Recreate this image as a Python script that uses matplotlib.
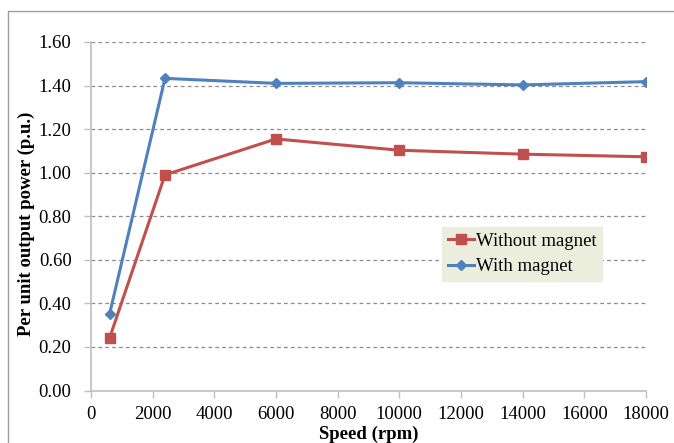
import matplotlib
matplotlib.use("Agg")
import matplotlib.pyplot as plt
from matplotlib.patches import Rectangle

plt.rcParams["font.family"] = "Liberation Serif"

speed = [600, 2400, 6000, 10000, 14000, 18000]
without_magnet = [0.24, 0.99, 1.155, 1.103, 1.085, 1.073]
with_magnet = [0.35, 1.433, 1.41, 1.413, 1.403, 1.418]
x_ticks = [0, 2000, 4000, 6000, 8000, 10000, 12000, 14000, 16000, 18000]
y_ticks = [0.0, 0.2, 0.4, 0.6, 0.8, 1.0, 1.2, 1.4, 1.6]

RED = "#C0504D"
BLUE = "#4F81BD"
GRID = "#8C8C8C"
SPINE = "#BFBFBF"

fig = plt.figure(figsize=(6.74, 4.43), dpi=100)
ax = fig.add_axes([91 / 674, 1 - 390.5 / 443, (646 - 91) / 674, (390.5 - 42) / 443])

# outer chart frame, cut at the right and bottom like the reference
fig.patches.append(Rectangle((8 / 674, -0.1), 1.0, 1 - 11 / 443 + 0.1, transform=fig.transFigure,
                             fill=False, edgecolor="#A0A0A0", lw=1.0))

ax.plot(speed, without_magnet, color=RED, lw=2.2, marker="s", markersize=7.5, label="Without magnet", zorder=3)
ax.plot(speed, with_magnet, color=BLUE, lw=2.2, marker="D", markersize=5.5, label="With magnet", zorder=4)

ax.set_xlim(0, 18000)
ax.set_ylim(0, 1.6)
ax.set_xticks(x_ticks)
ax.set_yticks(y_ticks)
ax.set_yticklabels([f"{v:.2f}" for v in y_ticks])
ax.tick_params(labelsize=13.5, length=5, color=SPINE, width=1, direction="out")
ax.tick_params(axis="y", pad=9)
ax.tick_params(axis="x", pad=6)

for y in y_ticks[1:]:
    ax.axhline(y, color=GRID, lw=0.9, ls=(0, (3, 2.5)), zorder=1)

for side in ["top", "right"]:
    ax.spines[side].set_visible(False)
for side in ["left", "bottom"]:
    ax.spines[side].set_color(SPINE)
    ax.spines[side].set_linewidth(1.2)

ax.set_xlabel("Speed (rpm)", fontsize=13.5, fontweight="bold")
ax.xaxis.set_label_coords(0.5, -(426 - 390.5) / 348.5)
ax.set_ylabel("Per unit output power (p.u.)", fontsize=13.5, fontweight="bold")
ax.yaxis.set_label_coords(-(91 - 35) / 555, (390.5 - 224) / 348.5)

leg = ax.legend(loc="upper left", bbox_to_anchor=((442 - 91) / 555, 1 - (227 - 42) / 348.5),
                fontsize=13.5, frameon=True, fancybox=False, handlelength=1.4, handletextpad=0.12,
                borderpad=0.3, labelspacing=0.45, borderaxespad=0)
leg.get_frame().set_facecolor("#EBEEDD")
leg.get_frame().set_edgecolor("#EBEEDD")
leg.get_frame().set_alpha(1)

fig.savefig("out.png", dpi=100)
